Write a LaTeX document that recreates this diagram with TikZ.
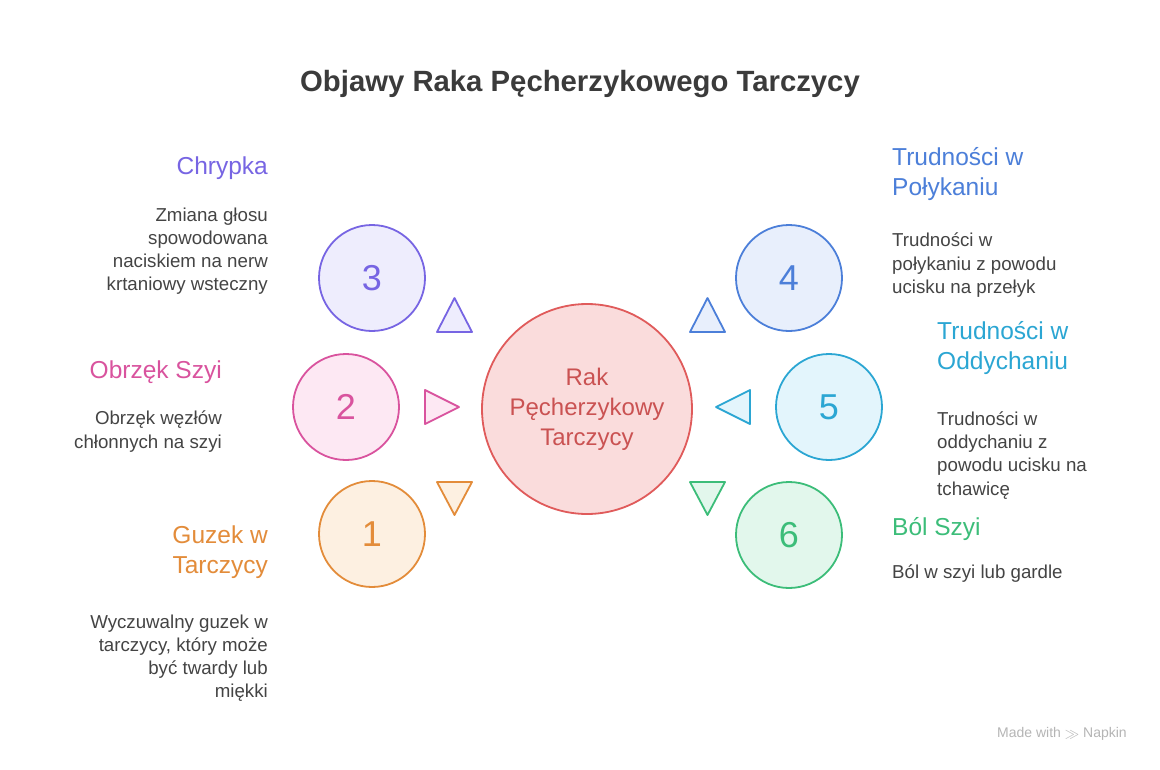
\documentclass[tikz,border=0pt]{standalone}
\usepackage{fontspec}
\setmainfont{Liberation Sans}
\definecolor{titlegray}{HTML}{3B3B3B}
\definecolor{txtgray}{HTML}{444444}
\definecolor{purS}{HTML}{7765E3}\definecolor{purF}{HTML}{EEEDFD}
\definecolor{pinS}{HTML}{D9539E}\definecolor{pinF}{HTML}{FDE8F3}
\definecolor{oraS}{HTML}{E38C3A}\definecolor{oraF}{HTML}{FDF0E1}
\definecolor{bluS}{HTML}{4C7FD9}\definecolor{bluF}{HTML}{E8EFFC}
\definecolor{cyaS}{HTML}{2BA6D3}\definecolor{cyaF}{HTML}{E3F5FC}
\definecolor{greS}{HTML}{3CBD79}\definecolor{greF}{HTML}{E2F7EC}
\definecolor{redS}{HTML}{E05B5B}\definecolor{redF}{HTML}{FADCDC}
\definecolor{markgray}{HTML}{B5B5B5}
\begin{document}
\begin{tikzpicture}[x=1pt,y=-1pt,
  numcirc/.style={circle, minimum size=106pt, inner sep=0pt, line width=1.8pt, font=\fontsize{36}{36}\selectfont},
  tri/.style={line width=1.8pt, line join=round},
  head/.style={inner sep=0pt, font=\fontsize{24.5}{30}\selectfont},
  desc/.style={inner sep=0pt, text=txtgray, font=\fontsize{18.7}{23.2}\selectfont}]
\useasboundingbox[fill=white] (0,0) rectangle (1160,769);
\node[text=titlegray, font=\bfseries\fontsize{29.3}{34}\selectfont, inner sep=0pt] (title) at (580,84) {Objawy Raka Pęcherzykowego Tarczycy};

\node[circle, minimum size=210pt, inner sep=0pt, draw=redS, fill=redF, line width=1.8pt, text=redS!90!black, align=center, font=\fontsize{24}{30}\selectfont] (center) at (587,409) {Rak\\Pęcherzykowy\\Tarczycy};

\node[numcirc, draw=purS, fill=purF, text=purS] (c3) at (372,278) {3};
\node[numcirc, draw=pinS, fill=pinF, text=pinS] (c2) at (346,407) {2};
\node[numcirc, draw=oraS, fill=oraF, text=oraS] (c1) at (372,534) {1};
\node[numcirc, draw=bluS, fill=bluF, text=bluS] (c4) at (789,278) {4};
\node[numcirc, draw=cyaS, fill=cyaF, text=cyaS] (c5) at (829,407) {5};
\node[numcirc, draw=greS, fill=greF, text=greS] (c6) at (789,535) {6};

% triangles
\draw[tri, draw=purS, fill=purF] (437,332) -- (472,332) -- (454.5,298) -- cycle;
\draw[tri, draw=pinS, fill=pinF] (425,390) -- (459,407) -- (425,424) -- cycle;
\draw[tri, draw=oraS, fill=oraF] (437,482) -- (472,482) -- (454.5,515) -- cycle;
\draw[tri, draw=bluS, fill=bluF] (690,332) -- (725,332) -- (707.5,298) -- cycle;
\draw[tri, draw=cyaS, fill=cyaF] (750,390) -- (716,407) -- (750,424) -- cycle;
\draw[tri, draw=greS, fill=greF] (690,482) -- (725,482) -- (707.5,515) -- cycle;

% left texts
\node[head, text=purS, anchor=east] (h3) at (268,168) {Chrypka};
\node[desc, anchor=north east, align=right] (d3) at (268,207.5) {Zmiana głosu\\spowodowana\\naciskiem na nerw\\krtaniowy wsteczny};
\node[head, text=pinS, anchor=east] (h2) at (222,372) {Obrzęk Szyi};
\node[desc, anchor=north east, align=right] (d2) at (222,411) {Obrzęk węzłów\\chłonnych na szyi};
\node[head, text=oraS, anchor=north east, align=right] (h1) at (268,526) {Guzek w\\Tarczycy};
\node[desc, anchor=north east, align=right] (d1) at (268,614.5) {Wyczuwalny guzek w\\tarczycy, który może\\być twardy lub\\miękki};

% right texts
\node[head, text=bluS, anchor=north west, align=left] (h4) at (892,147.5) {Trudności w\\Połykaniu};
\node[desc, anchor=north west, align=left] (d4) at (892,233) {Trudności w\\połykaniu z powodu\\ucisku na przełyk};
\node[head, text=cyaS, anchor=north west, align=left] (h5) at (937,321.5) {Trudności w\\Oddychaniu};
\node[desc, anchor=north west, align=left] (d5) at (937,411.5) {Trudności w\\oddychaniu z\\powodu ucisku na\\tchawicę};
\node[head, text=greS, anchor=west] (h6) at (892,529) {Ból Szyi};
\node[desc, anchor=west] (d6) at (892,574) {Ból w szyi lub gardle};

\node[text=markgray, font=\fontsize{14}{14}\selectfont, inner sep=0pt] (mark) at (1062,734) {Made with \raisebox{-1pt}{$\gg$}\ Napkin};
\end{tikzpicture}
\end{document}
